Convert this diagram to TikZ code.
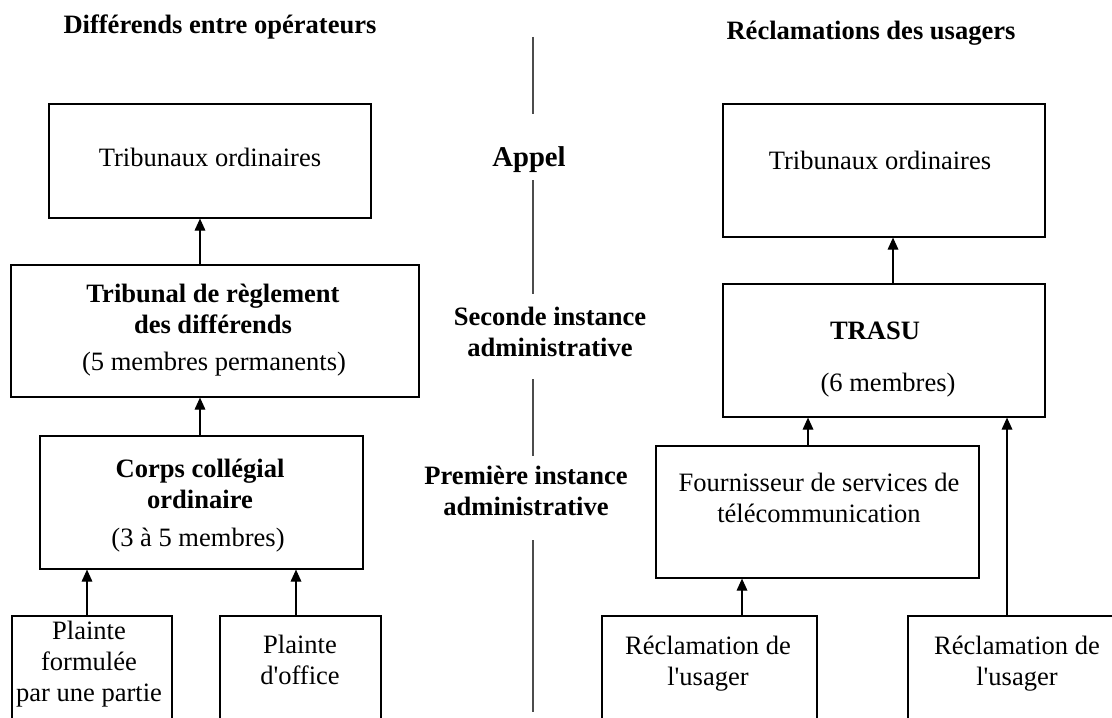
\documentclass[tikz,border=0pt]{standalone}
\usepackage{fontspec}
\setmainfont{Liberation Serif}
\usetikzlibrary{arrows.meta}
\newcommand{\pxu}{0.75pt}

\begin{document}
\begin{tikzpicture}[x=\pxu, y=-\pxu, >={Triangle[width=8pt,length=9pt]},
  every node/.style={font=\fontsize{19.9}{23.25}\selectfont, align=center, inner sep=0pt},
  box/.style={draw, line width=0.9pt},
  hd/.style={font=\fontsize{19.9}{23.25}\selectfont\bfseries},
  arr/.style={->, line width=0.9pt},
  axe/.style={line width=0.9pt, black!70}]
  \useasboundingbox (0,0) rectangle (1112,717);

  % Titles and levels
  \node[hd] (tleft) at (220,27) {Différends entre opérateurs};
  \node[hd] (tright) at (871,33) {Réclamations des usagers};
  \node[hd, font=\fontsize{21.5}{25}\selectfont\bfseries] (appel) at (529,160) {Appel};
  \node[hd] (seconde) at (550,332) {Seconde instance\\administrative};
  \node[hd] (premiere) at (526,491) {Première instance\\administrative};
  \foreach \a/\b in {37/114, 180/294, 379/456, 540/712}
    \draw[axe] (533,\a) -- (533,\b);

  % Boxes, left side
  \node[box, minimum width=322*\pxu, minimum height=114*\pxu] (l1) at (210,161) {};
  \node[box, minimum width=408*\pxu, minimum height=132*\pxu] (l2) at (215,331) {};
  \node[box, minimum width=323*\pxu, minimum height=133*\pxu] (l3) at (201.5,502.5) {};
  \node[box, minimum width=160*\pxu, minimum height=110*\pxu] (l4) at (92,671) {};
  \node[box, minimum width=161*\pxu, minimum height=110*\pxu] (l5) at (300.5,671) {};

  % Boxes, right side
  \node[box, minimum width=322*\pxu, minimum height=133*\pxu] (r1) at (884,170.5) {};
  \node[box, minimum width=322*\pxu, minimum height=133*\pxu] (r2) at (884,350.5) {};
  \node[box, minimum width=323*\pxu, minimum height=132*\pxu] (r3) at (817.5,512) {};
  \node[box, minimum width=215*\pxu, minimum height=110*\pxu] (r4) at (709.5,671) {};
  \node[box, minimum width=218*\pxu, minimum height=110*\pxu] (r5) at (1017,671) {};

  % Texts
  \node (l1t) at (210,157) {Tribunaux ordinaires};
  \node[hd] (l2t) at (213,309) {Tribunal de règlement\\des différends};
  \node (l2m) at (214,364) {(5 membres permanents)};
  \node[hd] (l3t) at (200,484) {Corps collégial\\ordinaire};
  \node (l3m) at (198,540) {(3 à 5 membres)};
  \node (l4t) at (89,664) {Plainte\\formulée\\par une partie};
  \node (l5t) at (300,660) {Plainte\\d\textquotesingle office};
  \node (r1t) at (880,160) {Tribunaux ordinaires};
  \node[hd] (r2t) at (875,331) {TRASU};
  \node (r2m) at (888,385) {(6 membres)};
  \node (r3t) at (819,498) {Fournisseur de services de\\télécommunication};
  \node (r4t) at (708,664) {Réclamation de\\l\textquotesingle usager};
  \node (r5t) at (1017,664) {Réclamation de\\l\textquotesingle usager};

  % Arrows
  \draw[arr] (l2.north -| 200,0) -- (l1.south -| 200,0);
  \draw[arr] (l3.north -| 200,0) -- (l2.south -| 200,0);
  \draw[arr] (l4.north -| 87,0) -- (l3.south -| 87,0);
  \draw[arr] (l5.north -| 296,0) -- (l3.south -| 296,0);
  \draw[arr] (r2.north -| 893,0) -- (r1.south -| 893,0);
  \draw[arr] (r3.north -| 808,0) -- (r2.south -| 808,0);
  \draw[arr] (r4.north -| 742,0) -- (r3.south -| 742,0);
  \draw[arr] (r5.north -| 1007,0) -- (r2.south -| 1007,0);
\end{tikzpicture}
\end{document}
